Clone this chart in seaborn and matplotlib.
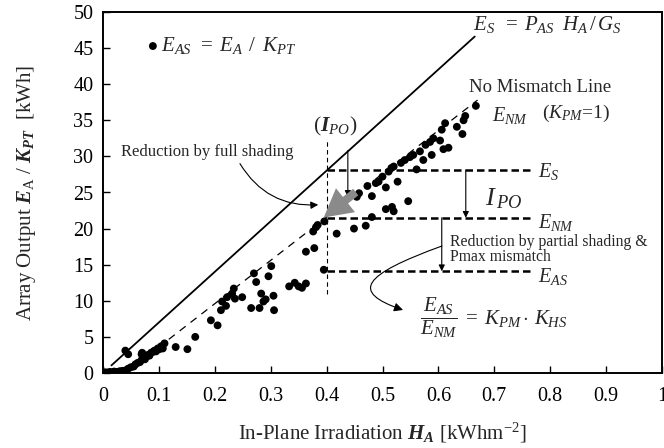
import numpy as np
import pandas as pd
import seaborn as sns
import matplotlib.pyplot as plt
from matplotlib.patches import FancyArrowPatch
from matplotlib.path import Path

# ---------------- data ----------------
h_a = [0.000, 0.004, 0.008, 0.012, 0.016, 0.020, 0.025, 0.030, 0.035, 0.040,
       0.045, 0.050, 0.055, 0.058, 0.062, 0.066, 0.069, 0.072, 0.075, 0.078,
       0.080, 0.083, 0.086, 0.089, 0.092, 0.095, 0.098, 0.101, 0.104, 0.107,
       0.110, 0.040, 0.045, 0.070, 0.069,
       0.130, 0.151, 0.165, 0.193, 0.205, 0.211, 0.213, 0.220, 0.222, 0.231,
       0.234, 0.236, 0.249, 0.265, 0.270, 0.274, 0.280, 0.283, 0.287, 0.291,
       0.296, 0.301, 0.305, 0.306, 0.333, 0.343, 0.350, 0.356, 0.363, 0.363,
       0.378, 0.376, 0.381, 0.384, 0.395, 0.396, 0.418, 0.430, 0.449, 0.470,
       0.481, 0.454, 0.458, 0.473, 0.481, 0.488, 0.493, 0.500, 0.506, 0.511,
       0.516, 0.520, 0.527, 0.506, 0.517, 0.520, 0.546, 0.533, 0.540, 0.549,
       0.555, 0.561, 0.567, 0.573, 0.577, 0.585, 0.588, 0.591, 0.603, 0.606,
       0.609, 0.618, 0.612, 0.633, 0.643, 0.645, 0.648, 0.667]
e_as = [0.05, 0.10, 0.05, 0.15, 0.10, 0.20, 0.15, 0.25, 0.30, 0.35,
        0.6, 0.8, 0.9, 1.2, 1.4, 1.5, 1.8, 2.0, 1.9, 2.3,
        2.5, 2.4, 2.8, 2.9, 3.1, 3.0, 3.4, 3.3, 3.7, 3.4,
        4.1, 3.1, 2.6, 2.8, 2.6,
        3.6, 3.3, 5.0, 7.3, 6.6, 8.7, 9.9, 9.3, 10.5, 11.0,
        11.7, 10.3, 10.5, 9.0, 13.8, 12.6, 9.0, 11.0, 9.9, 10.2,
        13.4, 14.8, 10.7, 8.7, 12.0, 12.5, 12.0, 11.8, 12.4, 16.8,
        17.3, 19.6, 20.2, 20.5, 14.3, 21.0, 19.3, 23.0, 20.0, 20.4,
        21.6, 24.4, 24.9, 25.9, 24.5, 26.3, 26.5, 27.2, 25.7, 27.9,
        28.4, 28.6, 26.5, 22.7, 23.0, 22.4, 23.8, 29.1, 29.5, 29.9,
        30.2, 28.2, 30.7, 29.5, 31.6, 32.0, 30.2, 32.5, 32.2, 33.7,
        31.0, 31.2, 34.6, 34.1, 33.1, 35.0, 35.6, 37.0]

es_line_h = [0.015, 0.665]
es_line_e = [1.05, 46.6]
nm_line_h = [0.040, 0.670]
nm_line_e = [0.0, 37.8]

ipo_h = 0.40
ipo_span = [11.0, 32.3]
level_names = [r'$E_S$', r'$E_{NM}$', r'$E_{AS}$']
level_values = [28.1, 21.5, 14.1]
level_end_h = 0.767

x_ticks = [0, 0.1, 0.2, 0.3, 0.4, 0.5, 0.6, 0.7, 0.8, 0.9, 1]
x_tick_labels = ['0', '0.1', '0.2', '0.3', '0.4', '0.5', '0.6', '0.7', '0.8', '0.9', '1']
y_ticks = [0, 5, 10, 15, 20, 25, 30, 35, 40, 45, 50]

df = pd.DataFrame({'H_A': h_a, 'E_AS': e_as})

# ---------------- style ----------------
sns.set_theme(style='ticks')
plt.rcParams['font.family'] = ['Liberation Serif', 'DejaVu Serif']
plt.rcParams['mathtext.fontset'] = 'custom'
plt.rcParams['mathtext.rm'] = 'Liberation Serif'
plt.rcParams['mathtext.it'] = 'Liberation Serif:italic'
plt.rcParams['mathtext.bf'] = 'Liberation Serif:bold'
plt.rcParams['mathtext.bfit'] = 'Liberation Serif:italic:bold'
plt.rcParams['axes.edgecolor'] = 'black'

fig = plt.figure(figsize=(6.64, 4.48), dpi=100)
ax = fig.add_axes([103 / 664, 75 / 448, 559 / 664, 361 / 448])

sns.scatterplot(data=df, x='H_A', y='E_AS', ax=ax, color='black', s=32,
                edgecolor='none', linewidth=0, zorder=3,
                label=r'$E_{AS}\;\,=\;E_A\;\,/\;\;K_{PT}$')

ax.plot(es_line_h, es_line_e, color='black', lw=1.3)
ax.plot(nm_line_h, nm_line_e, color='black', lw=0.9, ls=(0, (6, 5)))

ax.plot([ipo_h, ipo_h], ipo_span, color='black', lw=0.8, ls=(0, (4, 3)))
ax.hlines(level_values, ipo_h, level_end_h, color='black', lw=1.8, ls=(0, (3, 1.6)))
for name, val, dy in zip(level_names, level_values, [-0.2, -0.6, -0.8]):
    ax.text(0.778, val + dy, name, fontsize=14.5, va='center', ha='left')

# arrows between levels
ax.annotate('', xy=(0.649, level_values[1]), xytext=(0.649, level_values[0]),
            arrowprops=dict(arrowstyle='-|>', color='black', lw=0.8,
                            mutation_scale=9, shrinkA=0, shrinkB=0))
ax.annotate('', xy=(0.606, level_values[2]), xytext=(0.606, level_values[1]),
            arrowprops=dict(arrowstyle='-|>', color='black', lw=0.8,
                            mutation_scale=9, shrinkA=0, shrinkB=0))
ax.text(0.683, 24.2, r'$I_{\,PO}$', fontsize=19, va='center', ha='left')
ax.text(0.621, 17.1, 'Reduction by partial shading &\nPmax mismatch',
        fontsize=11.3, va='center', ha='left', linespacing=0.95)

# curved arrow to formula
curve = Path([(0.6064, 17.59), (0.4633, 13.57), (0.4419, 11.22), (0.5367, 8.73)],
             [Path.MOVETO, Path.CURVE4, Path.CURVE4, Path.CURVE4])
ax.add_patch(FancyArrowPatch(path=curve, arrowstyle='-|>', color='black',
                             lw=0.8, mutation_scale=13))
ax.text(0.567, 7.7, r'$\dfrac{E_{AS}}{E_{NM}}\;=\;K_{PM}\cdot\, K_{HS}$',
        fontsize=15, va='center', ha='left')

# full-shading annotations
ax.text(ipo_h + 0.016, 34.2, r'($\mathbfit{I}_{PO}$)', fontsize=15.5, ha='center', va='center')
ax.text(0.186, 30.6, 'Reduction by full shading', fontsize=12, ha='center', va='center')
ax.annotate('', xy=(0.385, 23.3), xytext=(0.245, 29.0),
            arrowprops=dict(arrowstyle='-|>', color='black', lw=0.8,
                            mutation_scale=11, shrinkA=0, shrinkB=0,
                            connectionstyle='arc3,rad=0.3'))
ax.annotate('', xy=(0.438, 24.4), xytext=(0.438, 30.8),
            arrowprops=dict(arrowstyle='-|>', color='black', lw=0.8,
                            mutation_scale=9, shrinkA=0, shrinkB=0))
ax.add_patch(FancyArrowPatch((0.456, 25.3), (0.391, 21.3),
                             arrowstyle='simple,head_width=1.1,head_length=1.0,tail_width=0.3',
                             mutation_scale=20, color='#8a8a8a', lw=0, zorder=4))

# top texts
ax.text(0.662, 48.2, r'$E_S\;\;=\;P_{AS}\;\;H_A\,/\,G_S$', fontsize=15, va='center', ha='left')
ax.text(0.782, 39.5, 'No Mismatch Line', fontsize=13.5, va='center', ha='center')
ax.text(0.696, 35.7, r'$E_{NM}$', fontsize=14.5, va='center', ha='left')
ax.text(0.785, 35.9, r'($K_{PM}$=1)', fontsize=14, va='center', ha='left')

# axes
ax.set_xlim(0, 1)
ax.set_ylim(0, 50)
ax.set_xticks(x_ticks)
ax.set_xticklabels(x_tick_labels)
ax.set_yticks(y_ticks)
ax.tick_params(direction='in', length=5, width=1, labelsize=14.5, colors='black')
ax.tick_params(axis='x', pad=10)
ax.tick_params(axis='y', pad=7)
for sp in ax.spines.values():
    sp.set_visible(True)
    sp.set_linewidth(1.4)
    sp.set_color('black')
ax.set_xlabel(r'In-Plane Irradiation $\mathbfit{H}_{\mathbfit{A}}$ [kWhm$^{\mathrm{-2}}$]',
              fontsize=15)
ax.set_ylabel(r'Array Output $\mathbfit{E}_{\mathrm{A}}$ / $\mathbfit{K}_{\mathbfit{PT}}$  [kWh]',
              fontsize=15)
ax.xaxis.set_label_coords(0.5, -0.132)
ax.yaxis.set_label_coords(-0.117, 0.5)

leg = ax.legend(loc='upper left', bbox_to_anchor=(0.065, 0.958), frameon=False,
                fontsize=15, handlelength=0.5, handletextpad=0.15, borderaxespad=0,
                markerscale=1.0)

fig.savefig('out.png', dpi=100, facecolor='white')
